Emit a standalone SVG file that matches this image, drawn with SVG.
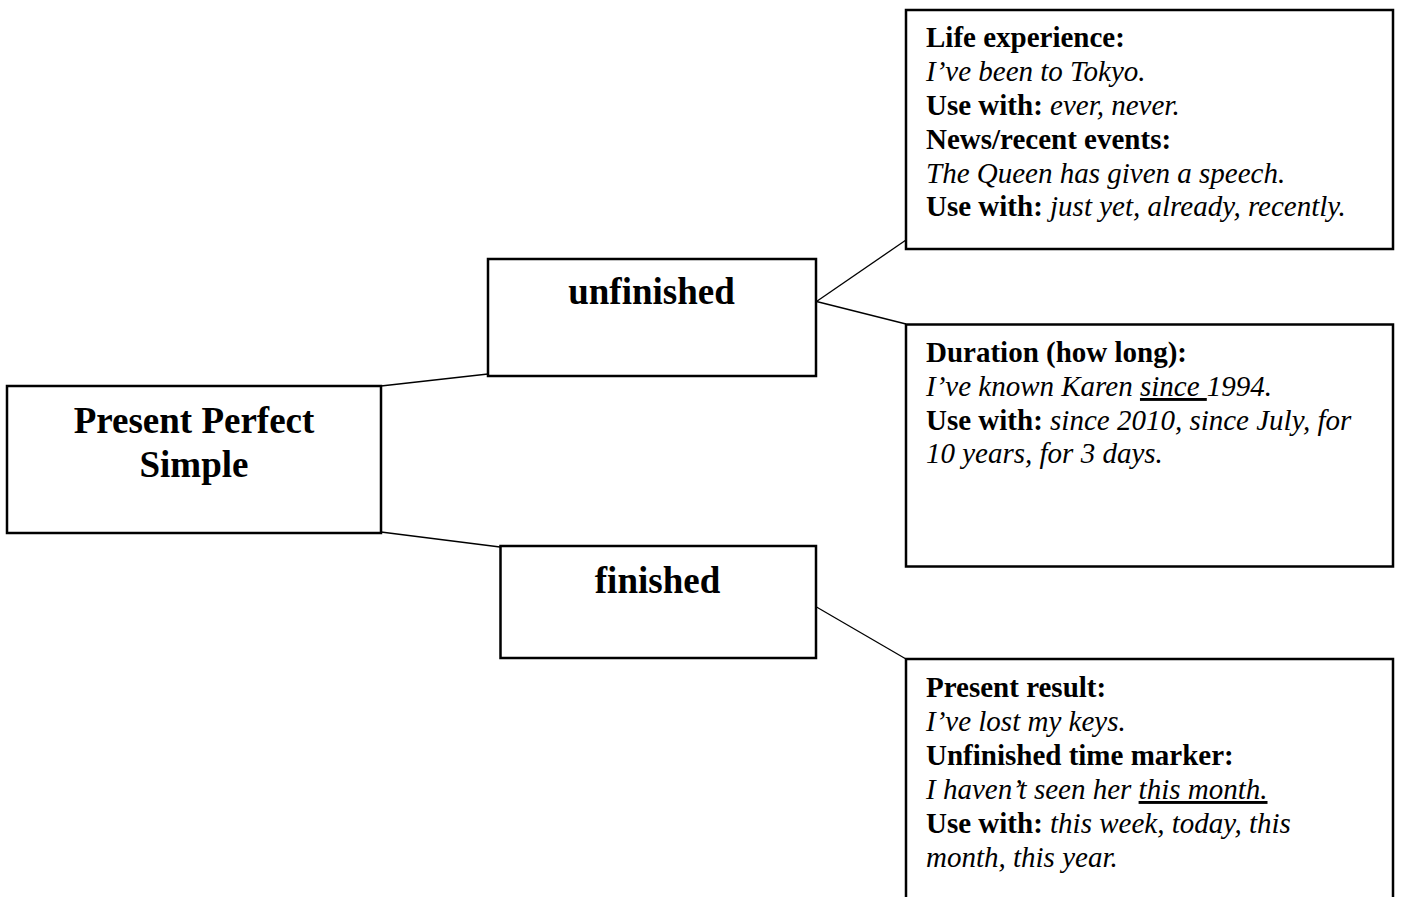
<svg xmlns="http://www.w3.org/2000/svg" width="1402" height="897" viewBox="0 0 1402 897">
<style>
.box{fill:#fff;stroke:#000;stroke-width:2.5}
.con line{stroke:#000;stroke-width:1.3}
.t{font-family:"Liberation Serif","Times New Roman",serif;fill:#000}
.big{font-size:37px;font-weight:bold}
.body{font-size:29px}
.b{font-weight:bold}
.i{font-style:italic}
.u{text-decoration:underline}
</style>
<rect width="1402" height="897" fill="#fff"/>
<g id="connectors" class="con">
<line x1="381" y1="386" x2="488" y2="374"/>
<line x1="381" y1="532" x2="500" y2="547"/>
<line x1="816.5" y1="301.5" x2="906" y2="240"/>
<line x1="816.5" y1="301.5" x2="906" y2="324"/>
<line x1="816.5" y1="607" x2="906" y2="659"/>
</g>
<g id="present-perfect-simple">
<rect class="box" x="7" y="386" width="374" height="147"/>
<text class="t big" x="194" y="433" text-anchor="middle">Present Perfect</text>
<text class="t big" x="194" y="477" text-anchor="middle">Simple</text>
</g>
<g id="unfinished">
<rect class="box" x="488" y="259" width="328" height="117"/>
<text class="t big" x="651.5" y="304" text-anchor="middle">unfinished</text>
</g>
<g id="finished">
<rect class="box" x="500.5" y="546" width="315.5" height="112"/>
<text class="t big" x="657.5" y="593" text-anchor="middle">finished</text>
</g>
<g id="life-experience">
<rect class="box" x="906" y="10" width="487" height="239"/>
<text class="t body">
<tspan class="b" x="926" y="47">Life experience:</tspan>
<tspan class="i" x="926" y="81">I’ve been to Tokyo.</tspan>
<tspan x="926" y="115"><tspan class="b">Use with:</tspan> <tspan class="i">ever, never.</tspan></tspan>
<tspan class="b" x="926" y="149">News/recent events:</tspan>
<tspan class="i" x="926" y="183">The Queen has given a speech.</tspan>
<tspan x="926" y="216"><tspan class="b">Use with:</tspan> <tspan class="i">just yet, already, recently.</tspan></tspan>
</text>
</g>
<g id="duration">
<rect class="box" x="906" y="324.5" width="487" height="242"/>
<text class="t body">
<tspan class="b" x="926" y="362">Duration (how long):</tspan>
<tspan class="i" x="926" y="396">I’ve known Karen <tspan class="u">since </tspan>1994.</tspan>
<tspan x="926" y="430"><tspan class="b">Use with:</tspan> <tspan class="i">since 2010, since July, for</tspan></tspan>
<tspan class="i" x="926" y="463">10 years, for 3 days.</tspan>
</text>
</g>
<g id="present-result">
<rect class="box" x="906" y="659" width="487" height="260"/>
<text class="t body">
<tspan class="b" x="926" y="697">Present result:</tspan>
<tspan class="i" x="926" y="731">I’ve lost my keys.</tspan>
<tspan class="b" x="926" y="765">Unfinished time marker:</tspan>
<tspan class="i" x="926" y="799">I haven’t seen her <tspan class="u">this month.</tspan></tspan>
<tspan x="926" y="833"><tspan class="b">Use with:</tspan> <tspan class="i">this week, today, this</tspan></tspan>
<tspan class="i" x="926" y="867">month, this year.</tspan>
</text>
</g>
</svg>
